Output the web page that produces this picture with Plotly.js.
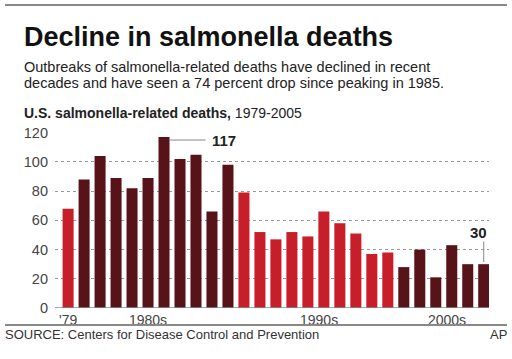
<!DOCTYPE html>
<html>
<head>
<meta charset="utf-8">
<script src="https://cdn.plot.ly/plotly-3.0.1.min.js"></script>
<style>
html,body{margin:0;padding:0;background:#fff;}
#chart{width:512px;height:359px;}
</style>
</head>
<body>
<div id="chart"></div>
<script>
// Data
const years = [1979,1980,1981,1982,1983,1984,1985,1986,1987,1988,1989,
               1990,1991,1992,1993,1994,1995,1996,1997,1998,1999,
               2000,2001,2002,2003,2004,2005];
const deaths = [68,88,104,89,82,89,117,102,105,66,98,
                79,52,47,52,49,66,58,51,37,38,
                28,40,21,43,30,30];
const decadeGroup = ['70s','80s','80s','80s','80s','80s','80s','80s','80s','80s','80s',
                     '90s','90s','90s','90s','90s','90s','90s','90s','90s','90s',
                     '00s','00s','00s','00s','00s','00s'];
const tickVals = [1979, 1984, 1994.7, 2002.7];
const tickText = ["'79", "1980s", "1990s", "2000s"];
const yTicks = [0,20,40,60,80,100,120];
const peakYear = 1985, peakValue = 117;
const lastYear = 2005, lastValue = 30;

const RED = '#c81e29', DARK = '#581318';
const groupColor = {'70s':RED,'80s':DARK,'90s':RED,'00s':DARK};
const colors = decadeGroup.map(g => groupColor[g]);

const FONT = 'Liberation Sans, Arial, Helvetica, sans-serif';
const YMAX = 120.5;
const RULE = '#888888';

const trace = {
  type:'bar', x:years, y:deaths,
  marker:{color:colors, line:{width:0}},
  hoverinfo:'x+y'
};

const layout = {
  width:512, height:359,
  margin:{l:0, r:0, t:0, b:0},
  paper_bgcolor:'#fff', plot_bgcolor:'#fff',
  showlegend:false,
  bargap:0.31,
  font:{family:FONT, color:'#333'},
  xaxis:{
    domain:[0.10742, 0.95508],
    range:[1978.18, 2005.33],
    tickmode:'array', tickvals:tickVals, ticktext:tickText,
    showgrid:false, zeroline:false, showline:false,
    ticks:'', ticklabelstandoff:2,
    tickfont:{family:FONT, size:14, color:'#444'},
    fixedrange:true
  },
  yaxis:{
    domain:[0.14206, 0.63231],
    range:[0,YMAX],
    tickmode:'array', tickvals:yTicks,
    showgrid:true, gridcolor:'#9a9a9a', griddash:'dot', gridwidth:1,
    zeroline:false, showline:false,
    ticks:'', ticklabelstandoff:6,
    tickfont:{family:FONT, size:14.5, color:'#444'},
    fixedrange:true
  },
  shapes:[
    // top rule and footer rule (paper = whole figure)
    {type:'line', xref:'paper', yref:'paper', x0:0.00977, x1:0.9902, y0:0.9861, y1:0.9861, line:{color:RULE, width:2}},
    {type:'line', xref:'paper', yref:'paper', x0:0.00977, x1:0.9902, y0:0.0947, y1:0.0947, line:{color:RULE, width:2}},
    // baseline
    {type:'line', xref:'paper', yref:'y', x0:0.10742, x1:0.95508, y0:0, y1:0, line:{color:'#8a8a8a', width:1.5}},
    // leaders
    {type:'line', xref:'x', yref:'y', x0:peakYear+0.36, x1:peakYear+2.6, y0:peakValue-2, y1:peakValue-2, line:{color:'#888', width:1}},
    {type:'line', xref:'x', yref:'y', x0:lastYear, x1:lastYear, y0:lastValue+1.5, y1:lastValue+15.5, line:{color:'#888', width:1}}
  ],
  annotations:[
    {xref:'paper', yref:'paper', x:0.04297, y:0.8983, xanchor:'left', yanchor:'middle', showarrow:false,
     text:'<b>Decline in salmonella deaths</b>',
     font:{family:'Liberation Sans Narrow, Arial Narrow, sans-serif', size:27, color:'#111'}},
    {xref:'paper', yref:'paper', x:0.04297, y:0.8120, xanchor:'left', yanchor:'middle', showarrow:false,
     text:'Outbreaks of salmonella-related deaths have declined in recent',
     font:{family:FONT, size:14.5, color:'#222'}},
    {xref:'paper', yref:'paper', x:0.04297, y:0.7688, xanchor:'left', yanchor:'middle', showarrow:false,
     text:'decades and have seen a 74 percent drop since peaking in 1985.',
     font:{family:FONT, size:14.5, color:'#222'}},
    {xref:'paper', yref:'paper', x:0.04297, y:0.6866, xanchor:'left', yanchor:'middle', showarrow:false,
     text:'<b>U.S. salmonella-related deaths,</b> 1979-2005',
     font:{family:FONT, size:14, color:'#222'}},
    {xref:'paper', yref:'paper', x:0.00586, y:0.0669, xanchor:'left', yanchor:'middle', showarrow:false,
     text:'SOURCE: Centers for Disease Control and Prevention',
     font:{family:FONT, size:13, color:'#333'}},
    {xref:'paper', yref:'paper', x:0.9941, y:0.0669, xanchor:'right', yanchor:'middle', showarrow:false,
     text:'AP', font:{family:FONT, size:13, color:'#333'}},
    {xref:'x', yref:'y', x:peakYear+2.9, y:peakValue-2, xanchor:'left', yanchor:'middle', showarrow:false,
     text:'<b>'+peakValue+'</b>', font:{family:FONT, size:15, color:'#222'}},
    {xref:'x', yref:'y', x:lastYear+0.3, y:lastValue+22, xanchor:'right', yanchor:'middle', showarrow:false,
     text:'<b>'+lastValue+'</b>', font:{family:FONT, size:15, color:'#222'}}
  ]
};

Plotly.newPlot('chart', [trace], layout, {displayModeBar:false, staticPlot:true});
</script>
</body>
</html>
